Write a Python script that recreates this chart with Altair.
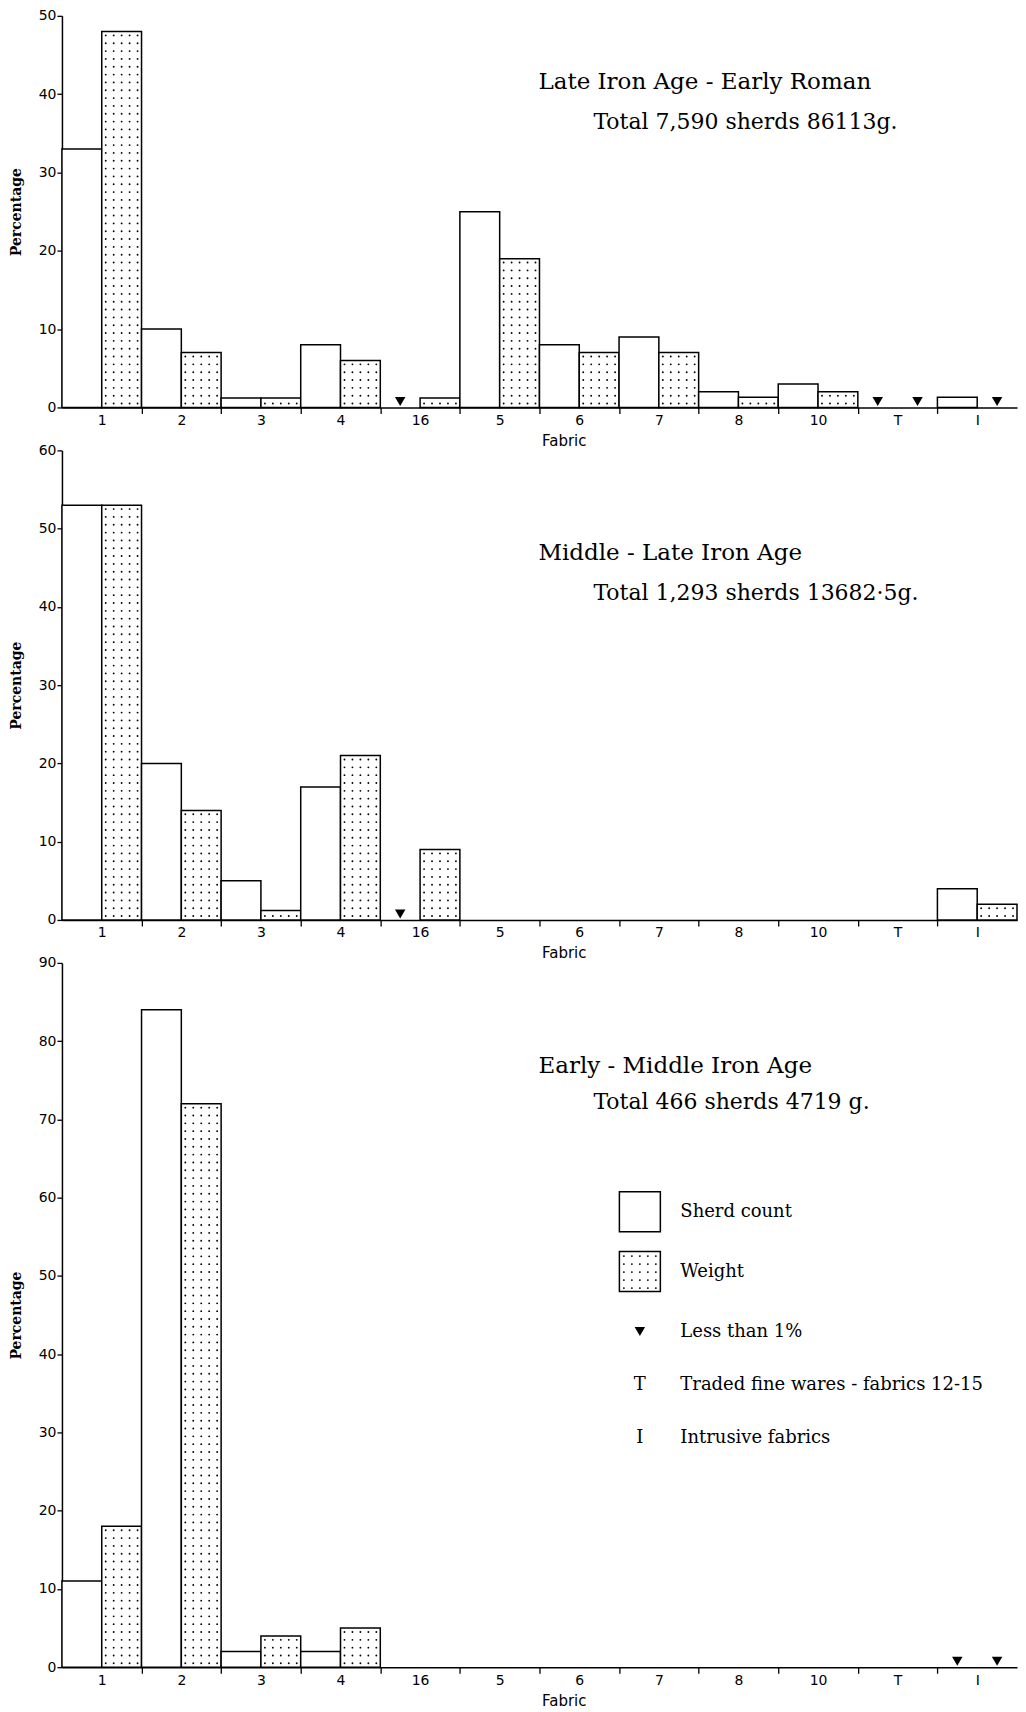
import json
import altair as alt
import pandas as pd

# ---------------- data ----------------
FABRICS = ["1", "2", "3", "4", "16", "5", "6", "7", "8", "10", "T", "I"]
SERIES = ["Sherd count", "Weight"]
LT = "<1"  # less than 1%

LIA_ER_COUNT = [33, 10, 1.2, 8, LT, 25, 8, 9, 2, 3, LT, 1.3]
LIA_ER_WEIGHT = [48, 7, 1.2, 6, 1.2, 19, 7, 7, 1.3, 2, LT, LT]
MLIA_COUNT = [53, 20, 5, 17, LT, 0, 0, 0, 0, 0, 0, 4]
MLIA_WEIGHT = [53, 14, 1.2, 21, 9, 0, 0, 0, 0, 0, 0, 2]
EMIA_COUNT = [11, 84, 2, 2, 0, 0, 0, 0, 0, 0, 0, LT]
EMIA_WEIGHT = [18, 72, 4, 5, 0, 0, 0, 0, 0, 0, 0, LT]

TITLES = ["Late Iron Age - Early Roman", "Middle - Late Iron Age", "Early - Middle Iron Age"]
TOTALS = ["Total 7,590 sherds 86113g.", "Total 1,293 sherds 13682·5g.", "Total 466 sherds 4719 g."]
Y_MAX = [50, 60, 90]
LEGEND_LABELS = ["Sherd count", "Weight", "Less than 1%",
                 "Traded fine wares - fabrics 12-15", "Intrusive fabrics"]
LEGEND_SYMBOLS = ["T", "I"]

# ---------------- styling ----------------
PLOT_W = 956
PX_PER_UNIT = 7.83
SERIF = "DejaVu Serif"
SANS = "DejaVu Sans"
N = len(FABRICS)


def build_frames(count, weight):
    bars, dots, tris = [], [], []
    for i, fab in enumerate(FABRICS):
        for s, (series, vals) in enumerate(zip(SERIES, (count, weight))):
            v = vals[i]
            x0 = i + 0.5 * s
            if v == LT:
                tris.append({"fabric": fab, "series": series, "xc": x0 + 0.25, "zero": 0})
            elif v > 0:
                bars.append({"fabric": fab, "series": series, "x0": x0, "x1": x0 + 0.5,
                             "v": v, "zero": 0})
                if series == "Weight":
                    k = 0
                    while k + 0.5 < v - 0.2:
                        for j in range(5):
                            dots.append({"xd": x0 + 0.05 + 0.1 * j, "yd": k + 0.5})
                        k += 1
    return pd.DataFrame(bars), pd.DataFrame(dots), pd.DataFrame(tris)


def panel(count, weight, ymax, title, total, title_y, total_y, legend=False):
    height = round(ymax * PX_PER_UNIT)
    bars, dots, tris = build_frames(count, weight)
    xs = alt.Scale(domain=[0, N], nice=False, zero=False)
    ys = alt.Scale(domain=[0, ymax], nice=False)

    y_axis = alt.Axis(values=list(range(0, ymax + 1, 10)), title="Percentage", grid=False,
                      titleFont=SERIF, titleFontWeight="bold", titleFontSize=14,
                      titleAngle=270, titleX=-45, titleY=height / 2,
                      titleAlign="center", titleBaseline="middle",
                      tickSize=5, labelPadding=1, labelFont=SANS, labelFontSize=14)
    tick_axis = alt.Axis(values=list(range(1, N)), labels=False, title=None, grid=False,
                         orient="bottom", tickSize=6)
    label_expr = json.dumps(FABRICS) + "[floor(datum.value)]"
    label_axis = alt.Axis(values=[i + 0.5 for i in range(N)], labelExpr=label_expr,
                          ticks=False, domain=False, grid=False, orient="bottom",
                          title="Fabric",
                          titleFont=SANS, titleFontSize=15, titleFontWeight="normal",
                          titleX=480, titleY=33, titleAlign="left", titleBaseline="middle",
                          labelPadding=6, labelFont=SANS, labelFontSize=14)

    bar_layer = alt.Chart(bars).mark_rect(fill="white", stroke="black", strokeWidth=1.5).encode(
        x=alt.X("x0:Q", scale=xs, axis=tick_axis),
        x2="x1:Q",
        y=alt.Y("v:Q", scale=ys, axis=y_axis),
        y2="zero:Q",
    )
    dot_layer = alt.Chart(dots).mark_circle(size=3.5, color="black", opacity=1).encode(
        x=alt.X("xd:Q", scale=xs, axis=None),
        y=alt.Y("yd:Q", scale=ys, axis=None),
    )
    tri_layer = alt.Chart(tris).mark_point(shape="triangle-down", filled=True, color="black",
                                           opacity=1, size=110, yOffset=-6).encode(
        x=alt.X("xc:Q", scale=xs, axis=None),
        y=alt.Y("zero:Q", scale=ys, axis=None),
    )
    fab_df = pd.DataFrame({"fabric": FABRICS, "mid": [i + 0.5 for i in range(N)], "zero": 0})
    label_layer = alt.Chart(fab_df).mark_point(opacity=0).encode(
        x=alt.X("mid:Q", scale=xs, axis=label_axis),
        y=alt.Y("zero:Q", scale=ys, axis=None),
    )
    title_layer = alt.Chart(pd.DataFrame({"t": [title]})).mark_text(
        align="left", baseline="middle", font=SERIF, fontSize=23, color="black").encode(
        text="t:N", x=alt.value(477), y=alt.value(title_y))
    total_layer = alt.Chart(pd.DataFrame({"t": [total]})).mark_text(
        align="left", baseline="middle", font=SERIF, fontSize=22, color="black").encode(
        text="t:N", x=alt.value(532), y=alt.value(total_y))

    layers = [bar_layer, dot_layer, tri_layer, label_layer, title_layer, total_layer]

    if legend:
        lx0, lx1 = 558, 599
        box_y = [(229, 269), (289, 329)]
        label_y = [249, 309, 369, 423, 476]
        for (y0, y1), lab in zip(box_y, SERIES):
            layers.append(alt.Chart(pd.DataFrame({"s": [lab]})).mark_rect(
                fill="white", stroke="black", strokeWidth=1.5).encode(
                x=alt.value(lx0), x2=alt.value(lx1), y=alt.value(y0), y2=alt.value(y1)))
        ldots = pd.DataFrame([{"px": lx0 + 4.5 + 8 * i, "py": box_y[1][0] + 4.5 + 8 * j}
                              for i in range(5) for j in range(5)])
        layers.append(alt.Chart(ldots).mark_circle(size=3.5, color="black", opacity=1).encode(
            x=alt.X("px:Q", scale=None), y=alt.Y("py:Q", scale=None)))
        layers.append(alt.Chart(pd.DataFrame({"s": [LEGEND_LABELS[2]]})).mark_point(
            shape="triangle-down", filled=True, color="black", opacity=1, size=110).encode(
            x=alt.value((lx0 + lx1) / 2), y=alt.value(label_y[2])))
        for sym, yy in zip(LEGEND_SYMBOLS, label_y[3:]):
            layers.append(alt.Chart(pd.DataFrame({"t": [sym]})).mark_text(
                align="center", baseline="middle", font=SERIF, fontSize=18,
                color="black").encode(text="t:N", x=alt.value((lx0 + lx1) / 2),
                                      y=alt.value(yy)))
        for lab, yy in zip(LEGEND_LABELS, label_y):
            layers.append(alt.Chart(pd.DataFrame({"t": [lab]})).mark_text(
                align="left", baseline="middle", font=SERIF, fontSize=18,
                color="black").encode(text="t:N", x=alt.value(619), y=alt.value(yy)))

    return alt.layer(*layers).resolve_axis(x="independent", y="independent").properties(
        width=PLOT_W, height=height)


p1 = panel(LIA_ER_COUNT, LIA_ER_WEIGHT, Y_MAX[0], TITLES[0], TOTALS[0], 66, 106)
p2 = panel(MLIA_COUNT, MLIA_WEIGHT, Y_MAX[1], TITLES[1], TOTALS[1], 103, 143)
p3 = panel(EMIA_COUNT, EMIA_WEIGHT, Y_MAX[2], TITLES[2], TOTALS[2], 103, 139, legend=True)

chart = alt.vconcat(p1, p2, p3, spacing=43, bounds="flush").properties(
    padding={"left": 2, "top": 0, "right": 0, "bottom": 0},
    background="white",
).configure_view(strokeWidth=0, stroke="transparent").configure_axis(
    domainColor="black", tickColor="black", labelColor="black", titleColor="black",
    domainWidth=1.5, tickWidth=1.3, grid=False
)

chart.save("out.html", embed_options={"renderer": "svg", "actions": False})
